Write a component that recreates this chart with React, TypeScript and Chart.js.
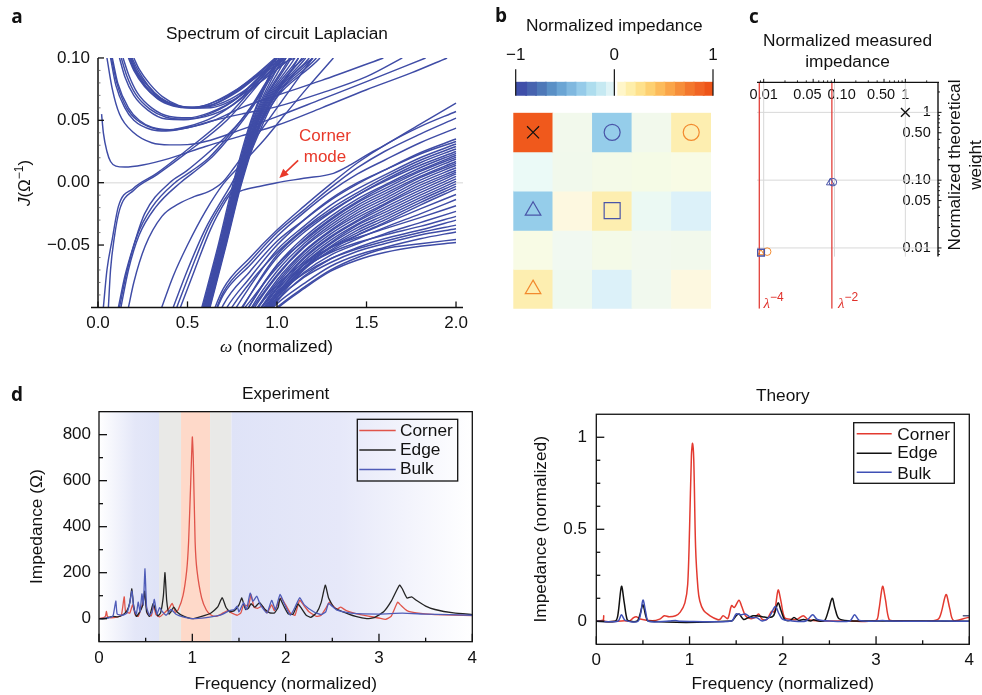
import React, { useEffect, useRef } from "react";
import { Chart, registerables } from "chart.js";

Chart.register(...registerables);

const W = 982;
const H = 695;
const SANS = '"Liberation Sans"';
const BAND = "#3f4ca6";
const RED = "#e8392a";
const ORANGE = "#f28a2e";
const MARK_BLUE = "#4a55a8";

type P = [number, number];

// ---- Panel a: spectrum ----
const bulkOmega = [0.6, 0.7, 0.85, 1, 1.15, 1.3, 1.45, 1.6, 1.8, 2];
const bulkBands = [
  [-0.12, -0.085, -0.06, -0.038, -0.019, -0.001, 0.016, 0.03, 0.045, 0.0571],
  [-0.125, -0.088, -0.063, -0.04, -0.022, -0.004, 0.012, 0.025, 0.039, 0.0517],
  [-0.125, -0.09, -0.066, -0.043, -0.024, -0.007, 0.007, 0.018, 0.032, 0.0437],
  [-0.135, -0.098, -0.071, -0.047, -0.03, -0.014, -0.001, 0.01, 0.024, 0.035],
  [-0.14, -0.105, -0.076, -0.05, -0.03, -0.013, 0, 0.01, 0.023, 0.033],
  [-0.15, -0.118, -0.083, -0.054, -0.035, -0.018, -0.005, 0.006, 0.02, 0.031],
  [-0.15, -0.112, -0.08, -0.056, -0.037, -0.021, -0.008, 0.004, 0.018, 0.029],
  [-0.16, -0.125, -0.09, -0.06, -0.04, -0.024, -0.01, 0.002, 0.016, 0.027],
  [-0.17, -0.13, -0.09, -0.058, -0.038, -0.023, -0.01, 0.001, 0.014, 0.025],
  [-0.18, -0.135, -0.098, -0.066, -0.044, -0.027, -0.013, -0.002, 0.012, 0.0235],
  [-0.17, -0.125, -0.095, -0.068, -0.046, -0.029, -0.015, -0.003, 0.01, 0.022],
  [-0.18, -0.14, -0.098, -0.066, -0.047, -0.03, -0.016, -0.005, 0.009, 0.0205],
  [-0.19, -0.145, -0.102, -0.071, -0.049, -0.032, -0.018, -0.007, 0.007, 0.019],
  [-0.18, -0.135, -0.103, -0.074, -0.051, -0.034, -0.02, -0.009, 0.005, 0.017],
  [-0.2, -0.15, -0.106, -0.075, -0.052, -0.036, -0.022, -0.011, 0.004, 0.0155],
  [-0.2, -0.155, -0.11, -0.078, -0.055, -0.038, -0.024, -0.013, 0.002, 0.014],
  [-0.2, -0.15, -0.11, -0.08, -0.056, -0.039, -0.026, -0.015, 0, 0.012],
  [-0.21, -0.16, -0.115, -0.082, -0.058, -0.041, -0.028, -0.017, -0.002, 0.01],
  [-0.2, -0.155, -0.115, -0.084, -0.06, -0.043, -0.03, -0.018, -0.004, 0.0085],
  [-0.21, -0.16, -0.118, -0.085, -0.061, -0.044, -0.031, -0.02, -0.006, 0.007],
  [-0.22, -0.165, -0.12, -0.087, -0.063, -0.046, -0.033, -0.022, -0.008, 0.005],
  [-0.21, -0.165, -0.122, -0.089, -0.065, -0.048, -0.034, -0.024, -0.01, 0.003],
  [-0.22, -0.17, -0.125, -0.09, -0.066, -0.049, -0.036, -0.026, -0.012, 0.001],
  [-0.22, -0.17, -0.125, -0.092, -0.068, -0.051, -0.038, -0.028, -0.014, -0.001],
  [-0.23, -0.175, -0.128, -0.093, -0.069, -0.052, -0.04, -0.03, -0.016, -0.003],
  [-0.22, -0.175, -0.13, -0.095, -0.07, -0.054, -0.042, -0.032, -0.018, -0.005],
  [-0.17, -0.14, -0.111, -0.085, -0.066, -0.052, -0.042, -0.033, -0.021, -0.0095],
  [-0.18, -0.15, -0.119, -0.09, -0.069, -0.055, -0.045, -0.036, -0.025, -0.0135],
  [-0.16, -0.135, -0.107, -0.082, -0.064, -0.052, -0.044, -0.037, -0.028, -0.0185],
  [-0.18, -0.152, -0.12, -0.092, -0.072, -0.058, -0.049, -0.041, -0.032, -0.023],
  [-0.175, -0.147, -0.116, -0.088, -0.068, -0.056, -0.048, -0.042, -0.035, -0.027],
  [-0.185, -0.155, -0.123, -0.095, -0.075, -0.061, -0.052, -0.045, -0.038, -0.03],
  [-0.17, -0.141, -0.114, -0.09, -0.073, -0.061, -0.053, -0.047, -0.04, -0.034],
  [-0.175, -0.147, -0.119, -0.094, -0.076, -0.064, -0.055, -0.049, -0.042, -0.037],
  [-0.175, -0.146, -0.12, -0.097, -0.081, -0.067, -0.058, -0.052, -0.045, -0.0395],
  [-0.175, -0.147, -0.122, -0.1, -0.084, -0.07, -0.06, -0.053, -0.049, -0.0455],
  [-0.175, -0.148, -0.123, -0.101, -0.085, -0.071, -0.062, -0.056, -0.051, -0.048],
];
const steepLevels = [-0.1, -0.05, 0, 0.05, 0.1];
const steepBands = [
  [0.58, 0.672, 0.756, 0.855, 1.0],
  [0.585, 0.677, 0.762, 0.86, 1.01],
  [0.59, 0.682, 0.766, 0.866, 1.03],
  [0.592, 0.685, 0.77, 0.87, 1.05],
  [0.596, 0.688, 0.774, 0.875, 1.07],
  [0.6, 0.692, 0.778, 0.88, 1.08],
  [0.604, 0.695, 0.782, 0.884, 1.1],
  [0.607, 0.698, 0.786, 0.888, 1.12],
  [0.61, 0.701, 0.789, 0.892, 1.14],
  [0.613, 0.704, 0.792, 0.896, 1.16],
  [0.616, 0.707, 0.795, 0.9, 1.18],
  [0.62, 0.71, 0.798, 0.906, 1.2],
  [0.623, 0.713, 0.8, 0.912, 1.22],
  [0.626, 0.716, 0.803, 0.92, 1.24],
];
const cornerBand: P[] = [[0.77, -0.008], [0.81, -0.006], [0.9, -0.003], [1, 0], [1.15, 0.0035], [1.315, 0.0075], [1.41, 0.0142], [1.5, 0.022], [1.6, 0.03], [1.8, 0.047], [2, 0.0638]];
const risingBands: P[][] = [
  [[0.03, -0.1], [0.05, -0.07], [0.08, -0.045], [0.114, -0.019], [0.197, -0.0046], [0.328, 0.0075], [0.495, 0.026], [0.72, 0.053], [0.94, 0.089], [1.0, 0.1]],
  [[0.058, -0.1], [0.07, -0.07], [0.09, -0.045], [0.12, -0.022], [0.2, -0.006], [0.33, 0.0065], [0.5, 0.0245], [0.72, 0.05], [0.95, 0.088], [1.03, 0.1]],
  [[0.114, -0.1], [0.15, -0.075], [0.2, -0.05], [0.26, -0.025], [0.4, 0], [0.495, 0.0095], [0.6, 0.022], [0.7, 0.035], [0.8, 0.05], [0.9, 0.07], [1.0, 0.095], [1.03, 0.1]],
  [[0.12, -0.1], [0.16, -0.072], [0.22, -0.042], [0.3, -0.02], [0.43, 0], [0.52, 0.009], [0.62, 0.02], [0.72, 0.036], [0.85, 0.06], [0.95, 0.083], [1.03, 0.1]],
  [[0.128, -0.1], [0.17, -0.07], [0.23, -0.042], [0.32, -0.02], [0.46, 0], [0.54, 0.009], [0.64, 0.021], [0.75, 0.039], [0.87, 0.062], [0.97, 0.085], [1.05, 0.1]],
  [[0.17, -0.1], [0.2, -0.08], [0.263, -0.051], [0.357, -0.027], [0.45, -0.017], [0.54, -0.011], [0.62, -0.007], [0.7, 0.001], [0.76, 0.012], [0.85, 0.03], [0.95, 0.05], [1.1, 0.08], [1.2, 0.1]],
  [[0.356, -0.1], [0.42, -0.075], [0.5, -0.05], [0.6, -0.023], [0.7, -0.001], [0.81, 0.016], [0.92, 0.033], [1.035, 0.053], [1.175, 0.077], [1.315, 0.1]],
  [[0.42, -0.1], [0.5, -0.07], [0.6, -0.037], [0.7, -0.012], [0.75, 0], [0.85, 0.03], [0.95, 0.062], [1.05, 0.085], [1.15, 0.1]],
  [[0.44, -0.1], [0.52, -0.07], [0.62, -0.035], [0.7, -0.015], [0.77, 0], [0.85, 0.027], [0.95, 0.06], [1.08, 0.09], [1.12, 0.1]],
  [[0.46, -0.1], [0.54, -0.07], [0.63, -0.037], [0.72, -0.013], [0.785, 0], [0.87, 0.03], [0.97, 0.062], [1.1, 0.088], [1.2, 0.1]],
];
const upperBands: P[][] = [
  [[0.02, 0.055], [0.03, 0.04], [0.05, 0.025], [0.07, 0.017], [0.1, 0.0133], [0.15, 0.0125], [0.25, 0.0142], [0.4, 0.0195], [0.6, 0.029], [0.8, 0.0375], [1.0, 0.046], [1.25, 0.06], [1.5, 0.0745], [1.75, 0.088], [1.95, 0.1]],
  [[0.05, 0.1], [0.08, 0.075], [0.12, 0.055], [0.2, 0.04], [0.3, 0.032], [0.4, 0.0303], [0.5, 0.0305], [0.6, 0.033], [0.8, 0.0425], [1.0, 0.053], [1.25, 0.067], [1.5, 0.081], [1.83, 0.1]],
  [[0.07, 0.1], [0.1, 0.078], [0.15, 0.06], [0.2, 0.05], [0.3, 0.0425], [0.38, 0.0415], [0.5, 0.044], [0.65, 0.05], [0.8, 0.055], [1.0, 0.061], [1.25, 0.072], [1.5, 0.085], [1.7, 0.1]],
  [[0.075, 0.1], [0.105, 0.08], [0.16, 0.06], [0.22, 0.05], [0.3, 0.044], [0.38, 0.042], [0.5, 0.044], [0.65, 0.05], [0.8, 0.06], [1.0, 0.07], [1.25, 0.082], [1.594, 0.1]],
  [[0.08, 0.1], [0.11, 0.08], [0.17, 0.06], [0.23, 0.05], [0.3, 0.0445], [0.4, 0.0425], [0.5, 0.045], [0.65, 0.053], [0.8, 0.068], [0.95, 0.09], [1.02, 0.1]],
  [[0.12, 0.1], [0.15, 0.085], [0.2, 0.07], [0.28, 0.058], [0.38, 0.051], [0.48, 0.0505], [0.6, 0.054], [0.75, 0.065], [0.9, 0.085], [1.0, 0.1]],
  [[0.13, 0.1], [0.16, 0.086], [0.21, 0.071], [0.29, 0.059], [0.38, 0.0525], [0.48, 0.051], [0.6, 0.053], [0.75, 0.062], [0.9, 0.08], [1.04, 0.1]],
  [[0.14, 0.1], [0.17, 0.087], [0.22, 0.072], [0.3, 0.06], [0.4, 0.053], [0.5, 0.052], [0.62, 0.056], [0.78, 0.068], [0.92, 0.087], [1.0, 0.1]],
  [[0.17, 0.1], [0.2, 0.09], [0.26, 0.077], [0.33, 0.068], [0.42, 0.062], [0.5, 0.0605], [0.6, 0.062], [0.72, 0.07], [0.85, 0.082], [1.0, 0.1]],
  [[0.175, 0.1], [0.205, 0.09], [0.265, 0.077], [0.335, 0.067], [0.42, 0.0615], [0.52, 0.06], [0.62, 0.063], [0.74, 0.071], [0.87, 0.085], [0.99, 0.1]],
  [[0.18, 0.1], [0.21, 0.09], [0.27, 0.077], [0.34, 0.068], [0.43, 0.062], [0.52, 0.0605], [0.62, 0.061], [0.74, 0.067], [0.88, 0.08], [1.05, 0.1]],
  [[0.185, 0.1], [0.215, 0.09], [0.275, 0.078], [0.345, 0.068], [0.44, 0.062], [0.53, 0.0598], [0.63, 0.06], [0.75, 0.066], [0.9, 0.08], [1.08, 0.1]],
  [[0.19, 0.1], [0.22, 0.091], [0.28, 0.078], [0.35, 0.068], [0.44, 0.0615], [0.54, 0.06], [0.64, 0.0625], [0.76, 0.072], [0.9, 0.087], [1.03, 0.1]],
  [[0.2, 0.1], [0.23, 0.091], [0.29, 0.079], [0.36, 0.069], [0.45, 0.062], [0.55, 0.06], [0.65, 0.063], [0.78, 0.073], [0.92, 0.088], [1.1, 0.1]],
];
const spectrumXTicks = [0, 0.5, 1, 1.5, 2];
const spectrumYTicks = [-0.05, 0, 0.05, 0.1];
const spectrumYMinor = [-0.09, -0.08, -0.07, -0.06, -0.04, -0.03, -0.02, -0.01, 0.01, 0.02, 0.03, 0.04, 0.06, 0.07, 0.08, 0.09];

// ---- Panel b: heat map ----
const colLabels = ["c0", "c1", "c2", "c3", "c4"];
const cellColors = [
  ["#f0591c", "#f2f9ec", "#95cdea", "#f2f9ec", "#fdeeb0"],
  ["#ebfaf7", "#f1f9ec", "#f4fae8", "#f5fbe6", "#f8fbe5"],
  ["#95cdea", "#fdf8e0", "#fdeeb0", "#ebf9f3", "#dcf1f9"],
  ["#f8fbe5", "#f1f9f1", "#f4fae8", "#f2f9ee", "#f2f9ec"],
  ["#fdeeb0", "#eff9ef", "#dcf1f9", "#f1f9ee", "#fdf8e0"],
];
const barEdges = [-1, -0.9, -0.8, -0.7, -0.6, -0.5, -0.4, -0.3, -0.2, -0.1, -0.015, 0.015, 0.1, 0.2, 0.3, 0.4, 0.5, 0.6, 0.7, 0.8, 0.9, 1];
const barColors = ["#3f4fa9", "#4763af", "#4e78b8", "#5a90c6", "#6ba5d4", "#80b8df", "#96cbe9", "#aeddee", "#c6e9f2", "#dff3f6", "#ffffff", "#fff6c9", "#feeeaa", "#fee18c", "#fdd071", "#fcbb5b", "#faa549", "#f68e3a", "#f3772d", "#f16424", "#ee5418"];
const barOverlap = 0.012;
const barTicks = [-1, 0, 1];

// ---- Panel c: log-log ----
const measuredTicks = [0.01, 0.05, 0.1, 0.5, 1];
const measuredLabelAt = [0.01, 0.0415, 0.1259, 0.454, 1];
const measuredLabels = ["0.01", "0.05", "0.10", "0.50", "1"];
const weightTicks = [0.01, 0.05, 0.1, 0.5, 1];
const logMinorX = [0.009, 0.02, 0.03, 0.04, 0.06, 0.07, 0.08, 0.09, 0.2, 0.3, 0.4, 0.6, 0.7, 0.8, 0.9, 2];
const logMinorY = [0.008, 0.009, 0.02, 0.03, 0.04, 0.06, 0.07, 0.08, 0.09, 0.2, 0.3, 0.4, 0.6, 0.7, 0.8, 0.9, 2];
const lambda4Line: P[] = [[0.00867, 0.00127], [0.00867, 2.77]];
const lambda2Line: P[] = [[0.0918, 0.00127], [0.0918, 2.77]];
const pointCross: P[] = [[1, 1]];
const pointBlueCircle: P[] = [[0.0948, 0.0934]];
const pointBlueTriangle: P[] = [[0.0873, 0.092]];
const pointOrangeCircle: P[] = [[0.0112, 0.00882]];
const pointBlueSquare: P[] = [[0.00916, 0.00853]];
const pointOrangeTriangle: P[] = [[0.00916, 0.00844]];

// ---- Panel d: experiment ----
const expCorner: P[] = [[0, 0], [0.05, 5], [0.07, 12], [0.08, 32], [0.09, 10], [0.12, 4], [0.2, 8], [0.24, 15], [0.27, 95], [0.285, 30], [0.33, 25], [0.36, 60], [0.39, 15], [0.42, 10], [0.47, 70], [0.49, 110], [0.52, 20], [0.56, 12], [0.585, 60], [0.61, 18], [0.65, 8], [0.7, 25], [0.75, 45], [0.785, 66], [0.82, 28], [0.85, 40], [0.9, 100], [0.94, 210], [0.96, 334], [0.98, 560], [1.0, 790], [1.01, 700], [1.03, 334], [1.05, 210], [1.1, 90], [1.15, 38], [1.2, 16], [1.25, 10], [1.3, 18], [1.33, 25], [1.38, 35], [1.42, 25], [1.48, 15], [1.52, 25], [1.55, 60], [1.6, 55], [1.63, 105], [1.66, 50], [1.7, 45], [1.75, 55], [1.8, 25], [1.85, 60], [1.88, 35], [1.95, 90], [2.0, 60], [2.05, 25], [2.1, 15], [2.15, 80], [2.2, 55], [2.25, 30], [2.33, 10], [2.38, 15], [2.43, 45], [2.47, 72], [2.5, 60], [2.55, 42], [2.59, 50], [2.65, 35], [2.8, 18], [3.0, 3], [3.07, -3], [3.13, 10], [3.2, 72], [3.23, 60], [3.3, 35], [3.4, 25], [3.6, 18], [4, 14]];
const expEdge: P[] = [[0, 0], [0.05, 0], [0.15, 10], [0.2, 8], [0.25, 15], [0.3, 35], [0.33, 70], [0.352, 130], [0.37, 60], [0.4, 10], [0.43, 25], [0.47, 60], [0.49, 120], [0.51, 30], [0.54, 10], [0.58, 65], [0.6, 45], [0.63, 12], [0.66, 25], [0.69, 100], [0.707, 200], [0.725, 80], [0.75, 20], [0.77, 30], [0.8, 50], [0.84, 28], [0.9, 12], [1.0, 0], [1.1, 10], [1.2, 25], [1.27, 50], [1.32, 91], [1.36, 50], [1.4, 30], [1.45, 35], [1.5, 60], [1.53, 90], [1.57, 40], [1.6, 45], [1.63, 65], [1.67, 50], [1.72, 70], [1.78, 40], [1.83, 25], [1.88, 25], [1.92, 50], [1.94, 88], [1.98, 55], [2.03, 20], [2.08, 20], [2.13, 64], [2.16, 50], [2.22, 15], [2.27, 6], [2.33, 25], [2.38, 70], [2.425, 146], [2.46, 90], [2.52, 48], [2.6, 32], [2.75, 10], [2.87, 0], [2.95, 5], [3.05, 30], [3.13, 75], [3.22, 146], [3.25, 130], [3.3, 90], [3.35, 95], [3.4, 80], [3.5, 55], [3.6, 40], [3.8, 25], [4, 18]];
const expBulk: P[] = [[0, 0], [0.1, 3], [0.15, 12], [0.18, 77], [0.195, 20], [0.25, 15], [0.3, 25], [0.33, 70], [0.352, 120], [0.375, 40], [0.4, 20], [0.42, 72], [0.44, 30], [0.46, 108], [0.475, 60], [0.493, 217], [0.51, 50], [0.54, 15], [0.57, 30], [0.593, 84], [0.62, 20], [0.65, 48], [0.68, 30], [0.72, 15], [0.77, 40], [0.83, 18], [0.9, 8], [1.0, 0], [1.15, 5], [1.3, 15], [1.4, 35], [1.45, 40], [1.48, 55], [1.5, 30], [1.55, 70], [1.58, 40], [1.62, 111], [1.65, 75], [1.69, 98], [1.73, 60], [1.8, 25], [1.85, 80], [1.89, 40], [1.94, 105], [1.98, 70], [2.05, 15], [2.1, 50], [2.15, 91], [2.2, 60], [2.3, 30], [2.38, 18], [2.43, 30], [2.46, 66], [2.55, 37], [2.7, 24], [3.0, 20], [3.25, 24], [3.5, 20], [4, 15]];
const expXTicks = [0, 1, 2, 3, 4];
const expXMinor = [0.5, 1.5, 2.5, 3.5];
const expYTicks = [0, 200, 400, 600, 800];
const expYMinor = [100, 300, 500, 700];
const regionEdges = [0, 0.643, 0.879, 1.19, 1.42, 4];

// ---- Panel d: theory ----
const theoCorner: P[] = [[0, 0], [0.06, 0.005], [0.075, 0.005], [0.08, 0.03], [0.085, 0], [0.3, 0.003], [0.36, 0.002], [0.4, 0.02], [0.43, 0.025], [0.47, 0.012], [0.6, 0.003], [0.68, 0.012], [0.73, 0.03], [0.78, 0.025], [0.85, 0.03], [0.9, 0.05], [0.95, 0.1], [0.98, 0.2], [1.0, 0.5], [1.02, 0.9], [1.032, 0.967], [1.045, 0.88], [1.065, 0.4], [1.09, 0.18], [1.11, 0.11], [1.15, 0.06], [1.22, 0.03], [1.3, 0.01], [1.33, 0.012], [1.36, 0.03], [1.41, 0.015], [1.45, 0.085], [1.48, 0.075], [1.53, 0.115], [1.56, 0.08], [1.6, 0.03], [1.65, 0.015], [1.7, 0.02], [1.74, 0.04], [1.78, 0.01], [1.83, 0.01], [1.88, 0.055], [1.91, 0.05], [1.95, 0.17], [1.98, 0.11], [2.02, 0.02], [2.1, 0.01], [2.15, 0.01], [2.22, 0.03], [2.27, 0.01], [2.4, 0.002], [2.7, 0.002], [3.0, 0.005], [3.03, 0.06], [3.07, 0.19], [3.1, 0.12], [3.14, 0.01], [3.2, 0.003], [3.6, 0.002], [3.68, 0.02], [3.75, 0.145], [3.79, 0.07], [3.83, 0.005], [3.98, 0.02], [4, 0.02]];
const theoEdge: P[] = [[0, 0], [0.2, 0], [0.23, 0.03], [0.27, 0.19], [0.3, 0.1], [0.33, 0.01], [0.36, 0], [0.44, 0.002], [0.47, 0.04], [0.5, 0.09], [0.53, 0.03], [0.56, 0], [1.45, 0.002], [1.5, 0.03], [1.53, 0.04], [1.58, 0.01], [1.63, 0.02], [1.68, 0.03], [1.72, 0.03], [1.78, 0.025], [1.85, 0.02], [1.9, 0.03], [1.95, 0.1], [1.98, 0.06], [2.02, 0.01], [2.08, 0.005], [2.12, 0.02], [2.17, 0.005], [2.22, 0.01], [2.3, 0.002], [2.33, 0.008], [2.4, 0], [2.45, 0.005], [2.49, 0.06], [2.53, 0.125], [2.56, 0.07], [2.6, 0.015], [2.7, 0.003], [3, 0.002], [4, 0]];
const theoBulk: P[] = [[0, 0], [0.23, 0], [0.27, 0.035], [0.31, 0.005], [0.45, 0.002], [0.5, 0.115], [0.53, 0.05], [0.56, 0], [0.78, 0.001], [0.85, 0.004], [0.9, 0], [1.45, 0.002], [1.5, 0.04], [1.55, 0.035], [1.6, 0.04], [1.66, 0.02], [1.72, 0.02], [1.78, 0.002], [1.85, 0.02], [1.92, 0.08], [1.96, 0.04], [2, 0.01], [2.1, 0.002], [2.25, 0.002], [2.32, 0.035], [2.37, 0.01], [2.5, 0.001], [2.72, 0.002], [2.77, 0.035], [2.82, 0.005], [3.0, 0.001], [3.07, 0.005], [3.12, 0.001], [3.75, 0.001], [4, 0]];
const theoStub: P[] = [[3.93, 0.03], [4, 0.03]];
const theoYTicks = [0, 0.5, 1];
const theoYLabels = ["0", "0.5", "1"];
const theoYMinor = [0.125, 0.25, 0.375, 0.625, 0.75, 0.875];

const pts = (list: P[]) => list.map(([x, y]) => ({ x, y }));

type Seg = { t: string; font: string; dy?: number; color?: string };
function rich(ctx: CanvasRenderingContext2D, x: number, y: number, segs: Seg[], rot = 0, color = "#111") {
  ctx.save();
  ctx.translate(x, y);
  ctx.rotate(rot);
  ctx.textBaseline = "middle";
  ctx.textAlign = "left";
  let total = 0;
  for (const s of segs) {
    ctx.font = s.font;
    total += ctx.measureText(s.t).width;
  }
  let cx = -total / 2;
  for (const s of segs) {
    ctx.font = s.font;
    ctx.fillStyle = s.color || color;
    ctx.fillText(s.t, cx, s.dy || 0);
    cx += ctx.measureText(s.t).width;
  }
  ctx.restore();
}

function seg(ctx: CanvasRenderingContext2D, x1: number, y1: number, x2: number, y2: number, color = "#111", w = 1.3) {
  ctx.strokeStyle = color;
  ctx.lineWidth = w;
  ctx.beginPath();
  ctx.moveTo(x1, y1);
  ctx.lineTo(x2, y2);
  ctx.stroke();
}

const fixWidth = (w: number) => (s: any) => {
  s.width = w;
};
const fixHeight = (h: number) => (s: any) => {
  s.height = h;
};
const setTicks = (vals: number[]) => (s: any) => {
  s.ticks = vals.map((value) => ({ value }));
};
const noGrid = { display: false, drawTicks: false };
const noBorder = { display: false };

function boxedPanelPlugin(id: string, xT: number[], xM: number[], yT: number[], yM: number[], legend: any, shaded: boolean) {
  return {
    id,
    beforeDatasetsDraw(chart: any) {
      if (!shaded) return;
      const { ctx, chartArea: a, scales } = chart;
      const e = regionEdges.map((v) => scales.x.getPixelForValue(v));
      const lav = "#dfe3f7";
      const g1 = ctx.createLinearGradient(e[0], 0, e[1], 0);
      g1.addColorStop(0, "#ffffff");
      g1.addColorStop(0.6, "#e4e7f8");
      g1.addColorStop(1, lav);
      const g2 = ctx.createLinearGradient(e[4], 0, e[5], 0);
      g2.addColorStop(0, lav);
      g2.addColorStop(0.45, "#e6e8f9");
      g2.addColorStop(1, "#ffffff");
      const fills = [g1, "#e9e9e7", "#fed9c9", "#e9e9e7", g2];
      fills.forEach((f, i) => {
        ctx.fillStyle = f;
        ctx.fillRect(e[i], a.top, e[i + 1] - e[i], a.bottom - a.top);
      });
    },
    afterDatasetsDraw(chart: any) {
      const { ctx, chartArea: a, scales } = chart;
      ctx.save();
      ctx.strokeStyle = "#111";
      ctx.lineWidth = 1.3;
      ctx.strokeRect(a.left, a.top, a.right - a.left, a.bottom - a.top);
      xT.forEach((v) => {
        const p = scales.x.getPixelForValue(v);
        seg(ctx, p, a.bottom, p, a.bottom - 8);
      });
      xM.forEach((v) => {
        const p = scales.x.getPixelForValue(v);
        seg(ctx, p, a.bottom, p, a.bottom - 4);
      });
      yT.forEach((v) => {
        const p = scales.y.getPixelForValue(v);
        seg(ctx, a.left, p, a.left + 8, p);
      });
      yM.forEach((v) => {
        const p = scales.y.getPixelForValue(v);
        seg(ctx, a.left, p, a.left + 4, p);
      });
      // legend
      ctx.strokeStyle = "#111";
      ctx.lineWidth = 1.3;
      ctx.strokeRect(legend.x1, legend.y1, legend.x2 - legend.x1, legend.y2 - legend.y1);
      chart.data.datasets.slice(0, 3).forEach((d: any, i: number) => {
        seg(ctx, legend.h1, legend.handleY[i], legend.h2, legend.handleY[i], d.borderColor, d.borderWidth);
        ctx.fillStyle = "#111";
        ctx.font = `${legend.size}px ${SANS}`;
        ctx.textAlign = "left";
        ctx.textBaseline = "middle";
        ctx.fillText(d.label, legend.tx, legend.textY[i]);
      });
      ctx.restore();
    },
  };
}

export default function App() {
  const refs = [useRef<HTMLCanvasElement>(null), useRef<HTMLCanvasElement>(null), useRef<HTMLCanvasElement>(null), useRef<HTMLCanvasElement>(null), useRef<HTMLCanvasElement>(null)];
  const theoryRef = useRef<HTMLCanvasElement>(null);

  useEffect(() => {
    const tickFont = { family: SANS, size: 17 };
    const titleFont = { family: SANS, size: 17.3, weight: "normal" as const, lineHeight: 1.2 };
    const axisTitleFont = { family: SANS, size: 17.3, lineHeight: 1.2 };
    const charts: Chart[] = [];

    // ---------- a ----------
    const lineBand = (data: P[]) => ({
      data: pts(data),
      borderColor: BAND,
      borderWidth: 1.45,
      pointRadius: 0,
      cubicInterpolationMode: "monotone" as const,
      fill: false,
    });
    const aSets = [
      ...bulkBands.map((row) => lineBand(row.map((v, i) => [bulkOmega[i], v] as P))),
      ...steepBands.map((row) => lineBand(row.map((w, i) => [w, steepLevels[i]] as P))),
      lineBand(cornerBand),
      ...risingBands.map(lineBand),
      ...upperBands.map(lineBand),
    ];
    charts.push(
      new Chart(refs[0].current!, {
        type: "line",
        data: { datasets: aSets },
        options: {
          responsive: false,
          animation: false,
          layout: { padding: { left: 31, right: W - 463, top: 23.6, bottom: H - 307.4 - 50 } },
          plugins: {
            legend: { display: false },
            tooltip: { enabled: false },
            title: { display: true, text: "Spectrum of circuit Laplacian", font: titleFont, padding: { top: 0, bottom: 13.6 }, color: "#111", fullSize: false },
          },
          scales: {
            x: {
              type: "linear",
              min: -0.0391,
              max: 2.039,
              grid: noGrid,
              border: noBorder,
              afterFit: fixHeight(50),
              afterBuildTicks: setTicks(spectrumXTicks),
              ticks: { font: tickFont, color: "#111", padding: 6, autoSkip: false, maxRotation: 0, callback: (v: any) => Number(v).toFixed(1) },
            },
            y: {
              type: "linear",
              min: -0.1,
              max: 0.1,
              grid: noGrid,
              border: noBorder,
              afterFit: fixWidth(60),
              afterBuildTicks: setTicks(spectrumYTicks),
              ticks: { font: tickFont, color: "#111", padding: 1, autoSkip: false, callback: (v: any) => (Number(v) < 0 ? "\u2212" + Math.abs(Number(v)).toFixed(2) : Number(v).toFixed(2)) },
            },
          },
        },
        plugins: [
          {
            id: "spectrumFrame",
            beforeDatasetsDraw(chart: any) {
              const { ctx, chartArea: a, scales } = chart;
              ctx.save();
              const x1 = scales.x.getPixelForValue(1);
              const y0 = scales.y.getPixelForValue(0);
              seg(ctx, x1, a.top, x1, a.bottom, "#e4e4e4", 1.5);
              seg(ctx, scales.x.getPixelForValue(0), y0, a.right, y0, "#e4e4e4", 1.5);
              ctx.restore();
            },
            afterDatasetsDraw(chart: any) {
              const { ctx, chartArea: a, scales } = chart;
              ctx.save();
              const x0 = scales.x.getPixelForValue(0);
              seg(ctx, a.left, a.bottom, a.right, a.bottom, "#111", 1.5);
              seg(ctx, x0, a.top, x0, a.bottom, "#111", 1.5);
              spectrumXTicks.forEach((v) => {
                const p = scales.x.getPixelForValue(v);
                seg(ctx, p, a.bottom, p, a.bottom - 6);
              });
              spectrumYTicks.forEach((v) => {
                const p = scales.y.getPixelForValue(v);
                seg(ctx, x0, p, x0 + 6, p);
              });
              spectrumYMinor.forEach((v) => {
                const p = scales.y.getPixelForValue(v);
                seg(ctx, x0, p, x0 + 2.5, p, "#555", 0.8);
              });
              // arrow
              const tx = scales.x.getPixelForValue(1.118);
              const ty = scales.y.getPixelForValue(0.0179);
              const hx = scales.x.getPixelForValue(1.013);
              const hy = scales.y.getPixelForValue(0.0038);
              seg(ctx, tx, ty, hx + 4, hy - 3.5, RED, 1.6);
              const ang = Math.atan2(hy - ty, hx - tx);
              ctx.fillStyle = RED;
              ctx.beginPath();
              ctx.moveTo(hx, hy);
              ctx.lineTo(hx - 10 * Math.cos(ang - 0.42), hy - 10 * Math.sin(ang - 0.42));
              ctx.lineTo(hx - 10 * Math.cos(ang + 0.42), hy - 10 * Math.sin(ang + 0.42));
              ctx.closePath();
              ctx.fill();
              const big = `17px ${SANS}`;
              rich(ctx, 325, 136, [{ t: "Corner", font: big }], 0, RED);
              rich(ctx, 325, 157, [{ t: "mode", font: big }], 0, RED);
              // axis titles with italic symbols
              rich(ctx, 276.5, 347, [
                { t: "\u03c9", font: `italic 17.3px "Liberation Serif"` },
                { t: " (normalized)", font: `17.3px ${SANS}` },
              ]);
              rich(ctx, 25, 183, [
                { t: "J", font: `italic 17px ${SANS}` },
                { t: "(\u03a9", font: `17px ${SANS}` },
                { t: "\u22121", font: `12px ${SANS}`, dy: -5 },
                { t: ")", font: `17px ${SANS}` },
              ], -Math.PI / 2);
              // panel tags
              const tag = `bold 19px "Open Sans"`;
              rich(ctx, 17, 18, [{ t: "a", font: tag }]);
              rich(ctx, 501, 17, [{ t: "b", font: tag }]);
              rich(ctx, 754, 18, [{ t: "c", font: tag }]);
              rich(ctx, 17, 396, [{ t: "d", font: tag }]);
              ctx.restore();
            },
          },
        ],
      } as any)
    );

    // ---------- b: colour bar ----------
    charts.push(
      new Chart(refs[1].current!, {
        type: "bar",
        data: {
          labels: ["scale"],
          datasets: barColors.map((c, i) => ({
            data: [[barEdges[i], i === barColors.length - 1 ? barEdges[i + 1] : barEdges[i + 1] + barOverlap]],
            backgroundColor: c,
            borderWidth: 0,
            barPercentage: 1,
            categoryPercentage: 1,
          })),
        },
        options: {
          indexAxis: "y",
          responsive: false,
          animation: false,
          layout: { padding: { left: 515.7, right: W - 713, top: 15.6, bottom: H - 95.7 } },
          plugins: {
            legend: { display: false },
            tooltip: { enabled: false },
            title: { display: true, text: "Normalized impedance", font: titleFont, padding: { top: 0, bottom: 5.3 }, color: "#111", fullSize: false },
          },
          scales: {
            x: {
              type: "linear",
              position: "top",
              min: -1,
              max: 1,
              grid: noGrid,
              border: noBorder,
              afterFit: fixHeight(40),
              afterBuildTicks: setTicks(barTicks),
              ticks: { font: tickFont, color: "#111", padding: 16.5, autoSkip: false, maxRotation: 0, callback: (v: any) => (Number(v) < 0 ? "\u2212" + Math.abs(Number(v)) : String(v)) },
            },
            y: { type: "category", display: false, stacked: true },
          },
        },
        plugins: [
          {
            id: "barTicks",
            afterDatasetsDraw(chart: any) {
              const { ctx, chartArea: a, scales } = chart;
              ctx.save();
              barTicks.forEach((v) => {
                const p = scales.x.getPixelForValue(v);
                seg(ctx, p, a.top - 12.4, p, a.bottom, "#111", 1.2);
              });
              ctx.restore();
            },
          },
        ],
      } as any)
    );

    // ---------- b: heat map ----------
    const marker = (col: string, row: number, style: string, color: string, radius: number) => ({
      type: "line",
      showLine: false,
      order: 0,
      data: [{ x: col, y: row + 0.5 }],
      pointStyle: style,
      pointRadius: radius,
      pointBorderColor: color,
      pointBackgroundColor: "transparent",
      pointBorderWidth: 1.2,
      borderColor: color,
    });
    charts.push(
      new Chart(refs[2].current!, {
        type: "bar",
        data: {
          labels: colLabels,
          datasets: [
            marker("c0", 0, "crossRot", "#111", 8.5),
            marker("c2", 0, "circle", MARK_BLUE, 8),
            marker("c4", 0, "circle", ORANGE, 8),
            marker("c0", 2, "triangle", MARK_BLUE, 9),
            marker("c2", 2, "rect", MARK_BLUE, 11.3),
            marker("c0", 4, "triangle", ORANGE, 9),
            ...cellColors.map((row, r) => ({
              type: "bar",
              order: 1,
              data: row.map(() => [r, r + 1]),
              backgroundColor: row,
              borderWidth: 0,
              barPercentage: 1,
              categoryPercentage: 1,
            })),
          ],
        },
        options: {
          responsive: false,
          animation: false,
          layout: { padding: { left: 513.3, right: W - 711, top: 112.7, bottom: H - 308.7 } },
          plugins: { legend: { display: false }, tooltip: { enabled: false }, title: { display: false } },
          scales: {
            x: { type: "category", display: false, stacked: true },
            y: { type: "linear", display: false, min: 0, max: 5, reverse: true },
          },
        },
      } as any)
    );

    // ---------- c ----------
    const cPoint = (list: P[], style: string, color: string, r: number, bw = 1) => ({
      data: pts(list),
      showLine: false,
      pointStyle: style,
      pointRadius: r,
      pointBorderColor: color,
      pointBackgroundColor: "transparent",
      pointBorderWidth: bw,
      borderColor: color,
    });
    const logLabel = (v: any) => (Number(v) === 1 ? "1" : Number(v).toFixed(2));
    const cTickFont = { family: SANS, size: 14.5 };
    charts.push(
      new Chart(refs[3].current!, {
        type: "line",
        data: {
          datasets: [
            cPoint(pointCross, "crossRot", "#111", 6.2, 1.4),
            cPoint(pointBlueCircle, "circle", MARK_BLUE, 3.8),
            cPoint(pointBlueTriangle, "triangle", MARK_BLUE, 4.5),
            cPoint(pointBlueSquare, "rect", MARK_BLUE, 4.8, 1.4),
            cPoint(pointOrangeCircle, "circle", ORANGE, 3.8),
            cPoint(pointOrangeTriangle, "triangle", ORANGE, 3.5),
            { data: pts(lambda4Line), borderColor: "#e0302a", borderWidth: 1.2, pointRadius: 0 },
            { data: pts(lambda2Line), borderColor: "#e0302a", borderWidth: 1.2, pointRadius: 0 },
          ],
        },
        options: {
          responsive: false,
          animation: false,
          layout: { padding: { left: 757, right: W - 938 - 10, top: 30.5, bottom: H - 308.7 } },
          plugins: {
            legend: { display: false },
            tooltip: { enabled: false },
            title: {
              display: true,
              text: ["Normalized measured", "impedance"],
              font: { family: SANS, size: 17.3, weight: "normal", lineHeight: 1.21 },
              padding: { top: 0, bottom: 0 },
              color: "#111",
              fullSize: false,
            },
          },
          scales: {
            x: {
              type: "logarithmic",
              position: "top",
              min: 0.00805,
              max: 2.89,
              grid: noGrid,
              border: noBorder,
              afterFit: fixHeight(10),
              afterBuildTicks: setTicks(measuredLabelAt),
              ticks: { font: cTickFont, color: "#111", mirror: true, padding: 4, autoSkip: false, maxRotation: 0, callback: (_v: any, i: number) => measuredLabels[i] },
            },
            y: {
              type: "logarithmic",
              position: "right",
              min: 0.00127,
              max: 2.77,
              grid: noGrid,
              border: noBorder,
              afterFit: fixWidth(10),
              afterBuildTicks: setTicks(weightTicks),
              ticks: { font: cTickFont, color: "#111", mirror: true, padding: -7.3, crossAlign: "near", autoSkip: false, callback: logLabel },
            },
          },
        },
        plugins: [
          {
            id: "logFrame",
            beforeDatasetsDraw(chart: any) {
              const { ctx, chartArea: a, scales } = chart;
              const yEnd = scales.y.getPixelForValue(0.00745);
              ctx.save();
              [0.01, 0.1, 1].forEach((v) => {
                const p = scales.x.getPixelForValue(v);
                seg(ctx, p, a.top, p, yEnd, "#d8d8d8", 1);
                const q = scales.y.getPixelForValue(v);
                seg(ctx, a.left, q, a.right, q, "#d8d8d8", 1);
              });
              ctx.restore();
            },
            afterDatasetsDraw(chart: any) {
              const { ctx, chartArea: a, scales } = chart;
              const yEnd = scales.y.getPixelForValue(0.00745);
              ctx.save();
              seg(ctx, a.left, a.top, a.right + 1, a.top, "#111", 1.4);
              seg(ctx, a.right, a.top, a.right, yEnd, "#111", 1.4);
              measuredTicks.forEach((v) => {
                const p = scales.x.getPixelForValue(v);
                seg(ctx, p, a.top, p, a.top - 3.5, "#111", 1);
              });
              logMinorX.forEach((v) => {
                const p = scales.x.getPixelForValue(v);
                seg(ctx, p, a.top, p, a.top - 2, "#111", 0.9);
              });
              weightTicks.forEach((v) => {
                const p = scales.y.getPixelForValue(v);
                seg(ctx, a.right, p, a.right + 3.5, p, "#111", 1);
              });
              logMinorY.forEach((v) => {
                const p = scales.y.getPixelForValue(v);
                seg(ctx, a.right, p, a.right + 2, p, "#111", 0.9);
              });
              const t = `17.2px ${SANS}`;
              rich(ctx, 955, 165, [{ t: "Normalized theoretical", font: t }], -Math.PI / 2);
              rich(ctx, 976.7, 165, [{ t: "weight", font: t }], -Math.PI / 2);
              ctx.beginPath();
              ctx.rect(740, 280, 130, a.bottom - 280);
              ctx.clip();
              const lam = `italic 15px "Liberation Serif"`;
              const sup = `12px ${SANS}`;
              rich(ctx, 773.5, 304, [{ t: "\u03bb", font: lam }, { t: "\u22124", font: sup, dy: -6 }], 0, "#e0302a");
              rich(ctx, 848, 304, [{ t: "\u03bb", font: lam }, { t: "\u22122", font: sup, dy: -6 }], 0, "#e0302a");
              ctx.restore();
            },
          },
        ],
      } as any)
    );

    // ---------- d: experiment ----------
    const series = (label: string, list: P[], color: string, order: number, bw: number, tension: number) => ({
      label,
      data: pts(list),
      borderColor: color,
      borderWidth: bw,
      pointRadius: 0,
      order,
      tension,
    });

    charts.push(
      new Chart(refs[4].current!, {
        type: "line",
        data: {
          datasets: [
            series("Corner", expCorner, "#e0544a", 3, 1.3, 0.15),
            series("Edge", expEdge, "#242424", 2, 1.3, 0.15),
            series("Bulk", expBulk, "#4f5cb8", 1, 1.3, 0.15),
          ],
        },
        options: {
          responsive: false,
          animation: false,
          layout: { padding: { left: 27.3, right: W - 472.3, top: 383.6, bottom: 0 } },
          plugins: {
            legend: { display: false },
            tooltip: { enabled: false },
            title: { display: true, text: "Experiment", font: titleFont, padding: { top: 0, bottom: 7.3 }, color: "#111", fullSize: false },
          },
          scales: {
            x: {
              type: "linear",
              min: 0,
              max: 4,
              grid: noGrid,
              border: noBorder,
              afterFit: fixHeight(53.3),
              afterBuildTicks: setTicks(expXTicks),
              title: { display: true, text: "Frequency (normalized)", font: axisTitleFont, color: "#111", padding: 0 },
              ticks: { font: tickFont, color: "#111", padding: 6, autoSkip: false, maxRotation: 0 },
            },
            y: {
              type: "linear",
              min: -100,
              max: 900,
              grid: noGrid,
              border: noBorder,
              afterFit: fixWidth(71.7),
              afterBuildTicks: setTicks(expYTicks),
              title: { display: true, text: "Impedance (\u03a9)", font: axisTitleFont, color: "#111", padding: 0 },
              ticks: { font: tickFont, color: "#111", padding: 8, autoSkip: false },
            },
          },
        },
        plugins: [
          boxedPanelPlugin("expFrame", expXTicks, expXMinor, expYTicks, expYMinor, { x1: 357.3, x2: 457.7, y1: 419.3, y2: 481, h1: 359.3, h2: 395.7, tx: 400, size: 17.3, handleY: [430.5, 450, 469.5], textY: [431, 450.3, 469.3] }, true),
        ],
      } as any)
    );

    // ---------- d: theory ----------
    const line = (label: string, list: P[], color: string, order: number, bw: number) => series(label, list, color, order, bw, 0.3);
    charts.push(
      new Chart(theoryRef.current!, {
        type: "line",
        data: {
          datasets: [
            line("Corner", theoCorner, "#e33a30", 3, 1.5),
            line("Edge", theoEdge, "#111111", 2, 1.5),
            line("Bulk", theoBulk, "#3f50b5", 1, 1.5),
            line("", theoStub, "#555a80", 1, 1.5),
          ],
        },
        options: {
          responsive: false,
          animation: false,
          layout: { padding: { left: 531.3, right: W - 969.3, top: 386.3, bottom: 0 } },
          plugins: {
            legend: { display: false },
            tooltip: { enabled: false },
            title: { display: true, text: "Theory", font: titleFont, padding: { top: 0, bottom: 7.2 }, color: "#111", fullSize: false },
          },
          scales: {
            x: {
              type: "linear",
              min: 0,
              max: 4,
              grid: noGrid,
              border: noBorder,
              afterFit: fixHeight(50.7),
              afterBuildTicks: setTicks(expXTicks),
              title: { display: true, text: "Frequency (normalized)", font: axisTitleFont, color: "#111", padding: 0 },
              ticks: { font: tickFont, color: "#111", padding: 6, autoSkip: false, maxRotation: 0 },
            },
            y: {
              type: "linear",
              min: -0.125,
              max: 1.125,
              grid: noGrid,
              border: noBorder,
              afterFit: fixWidth(65),
              afterBuildTicks: setTicks(theoYTicks),
              title: { display: true, text: "Impedance (normalized)", font: axisTitleFont, color: "#111", padding: 0 },
              ticks: { font: tickFont, color: "#111", padding: 9.3, autoSkip: false, callback: (v: any) => theoYLabels[theoYTicks.indexOf(Number(v))] },
            },
          },
        },
        plugins: [
          boxedPanelPlugin("theoFrame", expXTicks, expXMinor, theoYTicks, theoYMinor, { x1: 853.7, x2: 954.3, y1: 422.7, y2: 483.3, h1: 856.7, h2: 891.7, tx: 897.3, size: 17.3, handleY: [433.7, 453.3, 472.3], textY: [435, 453.3, 474] }, false),
        ],
      } as any)
    );

    return () => charts.forEach((c) => c.destroy());
  }, []);

  const canvasStyle: React.CSSProperties = { position: "absolute", left: 0, top: 0 };
  return (
    <div style={{ position: "absolute", left: 0, top: 0, width: W, height: H, background: "#fff", overflow: "hidden" }}>
      {refs.map((r, i) => (
        <canvas key={i} ref={r} width={W} height={H} style={canvasStyle} />
      ))}
      <canvas ref={theoryRef} width={W} height={H} style={canvasStyle} />
    </div>
  );
}
